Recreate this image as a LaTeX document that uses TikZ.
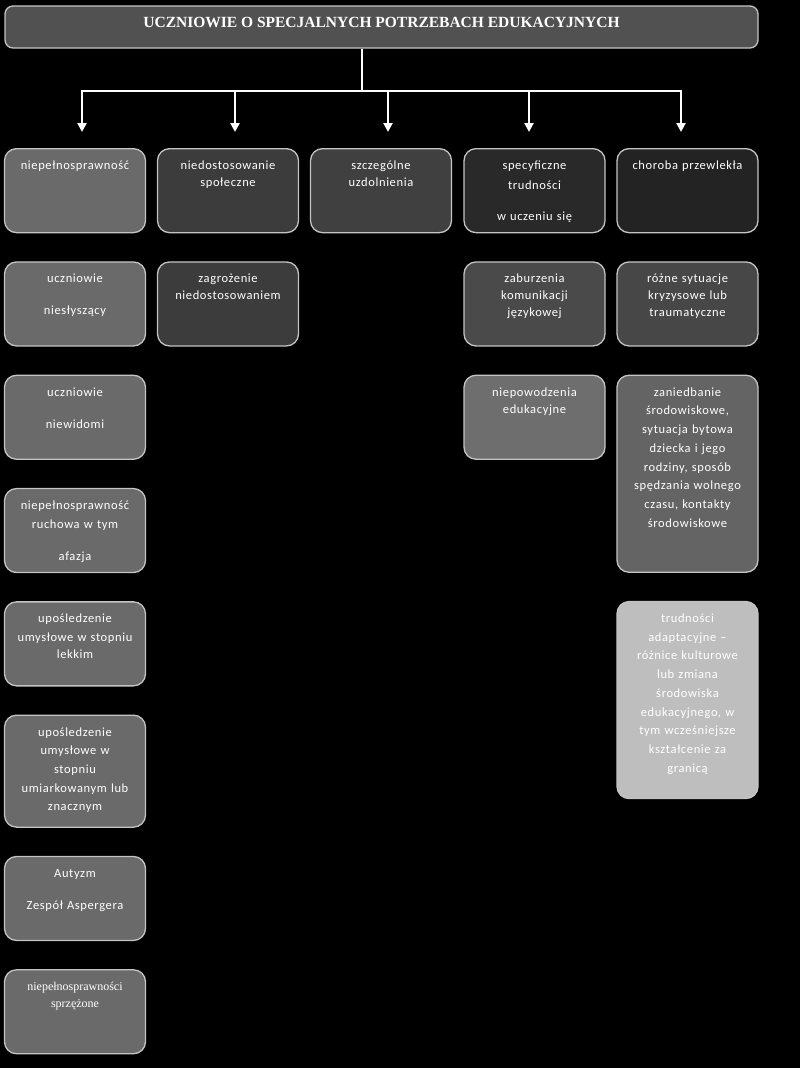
\documentclass[tikz,border=0pt]{standalone}
\usepackage{fontspec}
\setmainfont{Carlito}[LetterSpace=5]
\newfontfamily\titlefont{Liberation Serif}
\newfontfamily\serifbox{Liberation Serif}
\usetikzlibrary{arrows.meta, positioning}

\definecolor{boxline}{HTML}{C4C4C4}
\definecolor{titlefill}{HTML}{515151}
\definecolor{greyA}{HTML}{6A6A6A}
\definecolor{greyB}{HTML}{3C3C3C}
\definecolor{greyC}{HTML}{404040}
\definecolor{greyD}{HTML}{292929}
\definecolor{greyE}{HTML}{232323}
\definecolor{greyF}{HTML}{4A4A4A}
\definecolor{greyG}{HTML}{474747}
\definecolor{greyH}{HTML}{6E6E6E}
\definecolor{greyI}{HTML}{646464}
\definecolor{greyJ}{HTML}{BEBEBE}

\begin{document}
\begin{tikzpicture}[
    x=1pt, y=-1pt,
    node distance=28pt and 12pt,
    every node/.style={text=white},
    titlebox/.style={
        rectangle,
        rounded corners=8pt,
        draw=boxline,
        line width=1.3pt,
        fill=titlefill,
        minimum width=753pt,
        inner ysep=4pt,
        text height=17.5pt,
        text depth=16.5pt,
        font=\titlefont\bfseries\fontsize{15.5}{18}\selectfont
    },
    box/.style={
        rectangle,
        rounded corners=12pt,
        draw=boxline,
        line width=1.3pt,
        text width=133pt,
        align=center,
        inner xsep=4pt,
        inner ysep=4pt,
        text height=17pt,
        text depth=59pt,
        anchor=north,
        font=\fontsize{12.5}{17}\selectfont
    },
    tallbox/.style={
        box,
        text depth=87pt,
        font=\fontsize{12.5}{18.7}\selectfont
    },
    hugebox/.style={
        box,
        text depth=172pt,
        font=\fontsize{12.5}{18.7}\selectfont
    },
    link/.style={
        draw=white,
        line width=2.5pt
    },
    arrow/.style={
        link,
        -{Triangle[width=9pt,length=9pt]},
        shorten >=16pt
    }
]

\fill[black] (0,0) rectangle (800,1068);
\useasboundingbox (0,0) rectangle (800,1068);

% ============================================
% Title and distribution lines
% ============================================
\node[titlebox] (title) at (381.5,27) {UCZNIOWIE O SPECJALNYCH POTRZEBACH EDUKACYJNYCH};

\coordinate (stem) at (362,91);

% ============================================
% Top row: five kinds of needs
% ============================================
\node[box, fill=greyA] (disab) at (75,148) {niepełnosprawność};
\node[box, fill=greyB] (social) at (228,148) {niedostosowanie\\społeczne};
\node[box, fill=greyC] (gifted) at (381,148) {szczególne\\uzdolnienia};
\node[box, fill=greyD] (learn) at (534.5,148) {specyficzne\\[3pt]trudności\\[14pt]w uczeniu się};
\node[box, fill=greyE] (chronic) at (687.5,148) {choroba przewlekła};

\draw[link] (title.south -| stem) -- (stem);
\draw[arrow] (stem) -| ([xshift=7pt]disab.north);
\draw[arrow] (stem) -| ([xshift=7pt]social.north);
\draw[arrow] (stem) -| ([xshift=7pt]gifted.north);
\draw[arrow] (stem) -| ([xshift=-5.5pt]learn.north);
\draw[arrow] (stem) -| ([xshift=-6.5pt]chronic.north);

% ============================================
% Column 1: disabilities
% ============================================
\node[box, fill=greyA, below=of disab] (deaf) {uczniowie\\[15pt]niesłyszący};
\node[box, fill=greyA, below=of deaf] (blind) {uczniowie\\[15pt]niewidomi};
\node[box, fill=greyA, below=of blind, font=\fontsize{12.5}{18.7}\selectfont] (motor) {niepełnosprawność\\ruchowa w tym\\[14pt]afazja};
\node[box, fill=greyA, below=of motor] (mild) {upośledzenie\\[2pt]umysłowe w stopniu\\lekkim};
\node[tallbox, fill=greyA, below=of mild] (moderate) {upośledzenie\\umysłowe w\\stopniu\\umiarkowanym lub\\znacznym};
\node[box, fill=greyA, below=of moderate] (autism) {Autyzm\\[15pt]Zespół Aspergera};
\node[box, fill=greyA, below=of autism, font=\serifbox\fontsize{12}{17}\selectfont] (multi) {niepełnosprawności\\sprzężone};

% ============================================
% Columns 2, 4 and 5
% ============================================
\node[box, fill=greyB, below=of social] (risk) {zagrożenie\\niedostosowaniem};

\node[box, fill=greyF, below=of learn] (speech) {zaburzenia\\komunikacji\\językowej};
\node[box, fill=greyH, below=of speech] (failure) {niepowodzenia\\edukacyjne};

\node[box, fill=greyG, below=of chronic] (crisis) {różne sytuacje\\kryzysowe lub\\traumatyczne};
\node[hugebox, fill=greyI, below=of crisis] (neglect) {zaniedbanie\\środowiskowe,\\sytuacja bytowa\\dziecka i jego\\rodziny, sposób\\spędzania wolnego\\czasu, kontakty\\środowiskowe};
\node[hugebox, fill=greyJ, below=of neglect] (adapt) {trudności\\adaptacyjne –\\różnice kulturowe\\lub zmiana\\środowiska\\edukacyjnego, w\\tym wcześniejsze\\kształcenie za\\granicą};

\end{tikzpicture}
\end{document}
